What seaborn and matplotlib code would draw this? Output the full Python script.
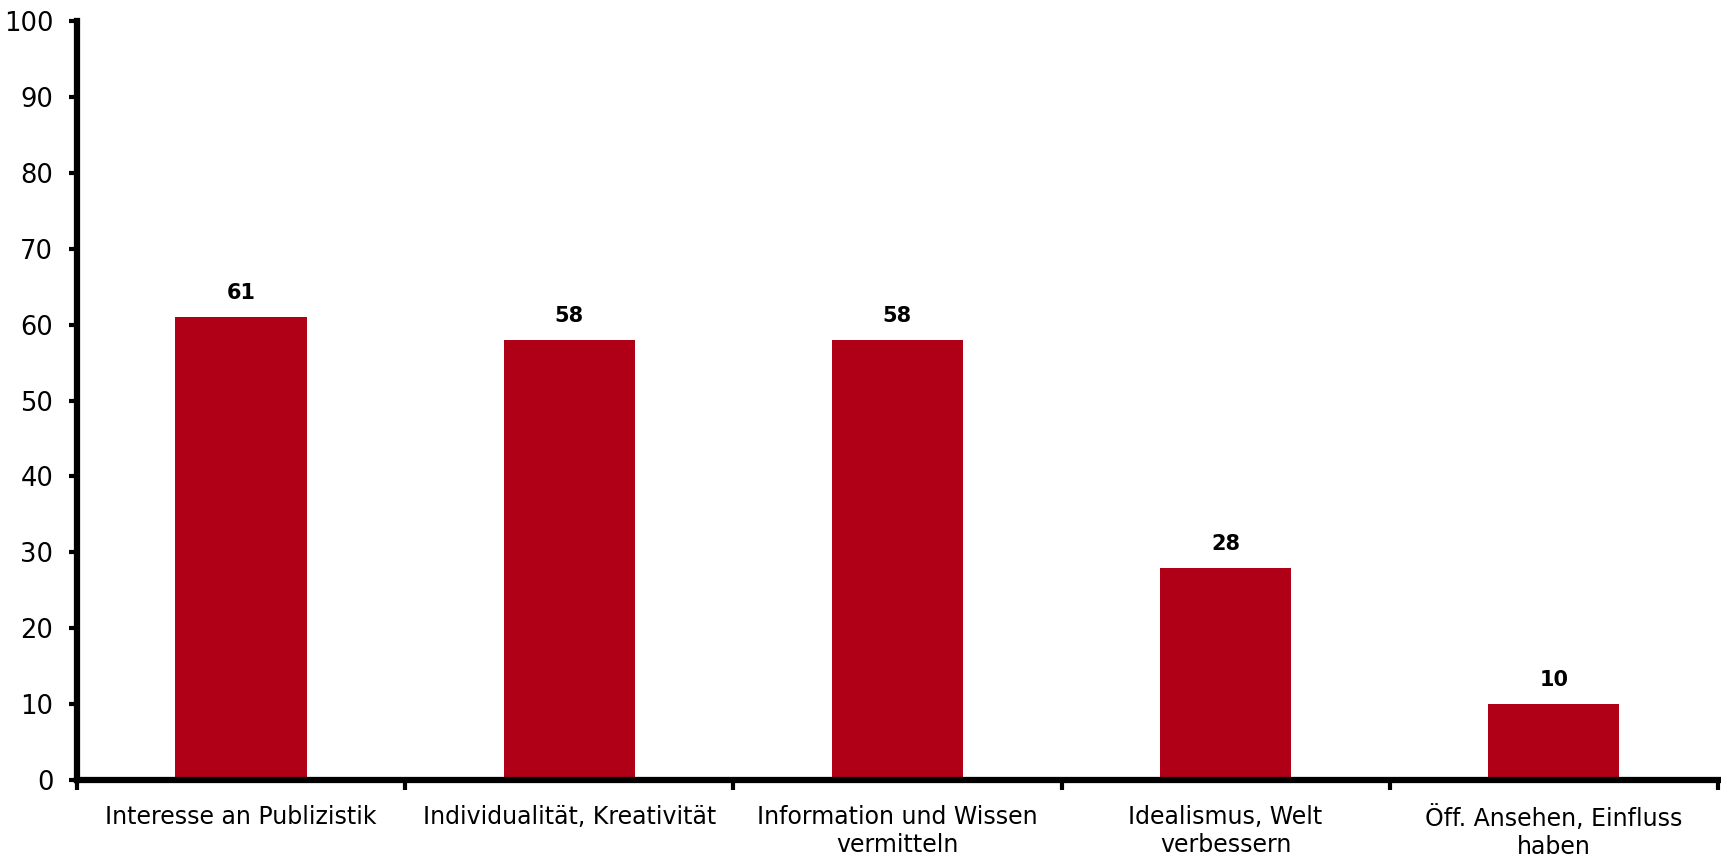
import matplotlib
matplotlib.use("Agg")
import matplotlib.pyplot as plt
import seaborn as sns
import pandas as pd
from matplotlib.ticker import FixedLocator

categories = ["Interesse an Publizistik", "Individualität, Kreativität",
              "Information und Wissen\nvermitteln", "Idealismus, Welt\nverbessern",
              "Öff. Ansehen, Einfluss\nhaben"]
values = [61, 58, 58, 28, 10]
yticks = [0, 10, 20, 30, 40, 50, 60, 70, 80, 90, 100]

sns.set_theme(style="white")
plt.rcParams['font.family'] = ['DejaVu Sans']

df = pd.DataFrame({"cat": categories, "val": values})

fig = plt.figure(figsize=(17.21, 8.57), dpi=100)
ax = fig.add_axes([0.0447, 0.0898, 0.9535, 0.8857])
sns.barplot(data=df, x="cat", y="val", color="#B00018", width=0.4, ax=ax,
            saturation=1, edgecolor="none")

ax.set_xlim(-0.5, len(categories) - 0.5)
ax.set_ylim(0, 100)
ax.set_yticks(yticks)
ax.set_xlabel("")
ax.set_ylabel("")
for s in ["top", "right"]:
    ax.spines[s].set_visible(False)
for s in ["left", "bottom"]:
    ax.spines[s].set_linewidth(4.5)
    ax.spines[s].set_color("black")

ax.tick_params(axis="y", which="major", direction="out", length=6, width=3,
               labelsize=18.5, pad=11, colors="black", left=True)
ax.tick_params(axis="x", which="major", length=0, labelsize=17, pad=18)
ax.xaxis.set_minor_locator(FixedLocator([i - 0.5 for i in range(len(categories) + 1)]))
ax.tick_params(axis="x", which="minor", direction="out", length=7, width=3,
               bottom=True, colors="black")
ax.set_xticks(range(len(categories)))
ax.set_xticklabels(categories, linespacing=1.2)
for lbl in ax.get_yticklabels() + ax.get_xticklabels():
    lbl.set_color("black")

for i, v in enumerate(values):
    ax.annotate(str(v), (i, v), xytext=(0, 10), textcoords="offset points",
                ha="center", va="bottom", fontsize=15, fontweight="bold",
                color="black")

fig.savefig("out.png", dpi=100)
